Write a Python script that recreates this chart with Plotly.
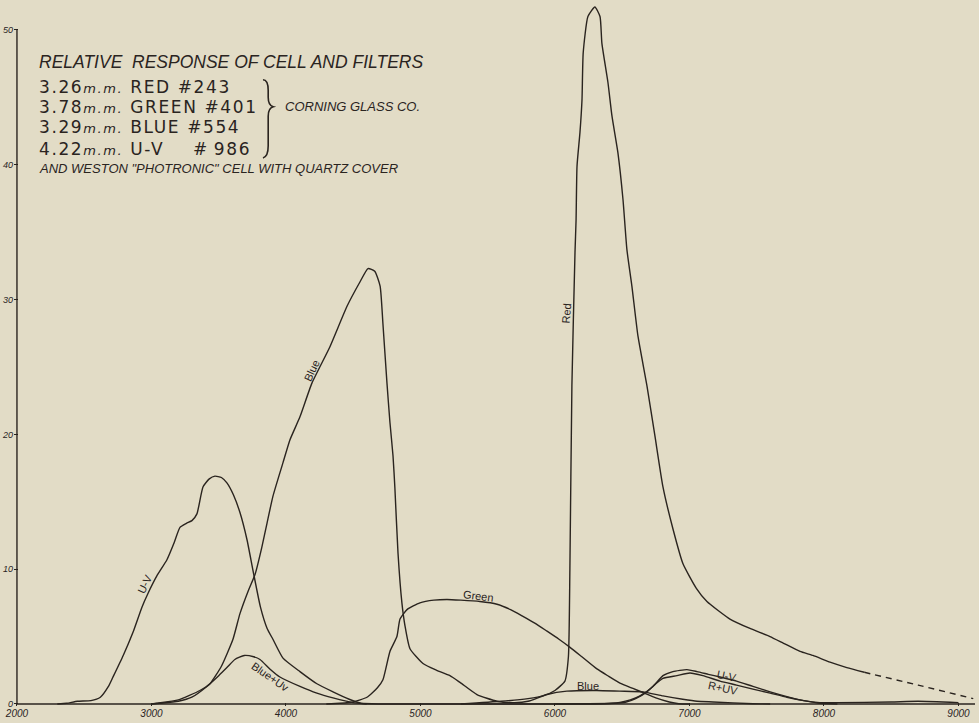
import plotly.graph_objects as go

# ---------------- data (wavelength in Angstrom, relative response) ----------------
uv_x = [2300, 2370, 2450, 2550, 2620, 2680, 2714, 2790, 2862, 2930, 2974, 3040, 3115, 3170, 3212,
        3260, 3301, 3338, 3383, 3430, 3472, 3520, 3561, 3610, 3658, 3710, 3755, 3810, 3860, 3903,
        3978, 4104, 4230, 4350, 4470, 4560, 4700, 5200, 5800, 6300, 6420, 6483, 6560, 6632, 6729,
        6803, 6877, 6981, 7056, 7140, 7227, 7350, 7472, 7600, 7725, 7850, 7970, 8100, 8500, 8700, 9000]
uv_y = [0.0, 0.05, 0.2, 0.25, 0.5, 1.3, 2.0, 3.6, 5.3, 7.2, 8.2, 9.5, 10.7, 12.0, 13.1,
        13.4, 13.6, 14.1, 16.1, 16.7, 16.9, 16.8, 16.4, 15.5, 14.2, 12.2, 9.9, 7.2, 5.6, 4.8,
        3.4, 2.4, 1.5, 0.9, 0.35, 0.05, 0.0, 0.0, 0.0, 0.0, 0.05, 0.12, 0.3, 0.6, 1.3,
        2.1, 2.4, 2.55, 2.4, 2.2, 2.0, 1.7, 1.3, 0.9, 0.55, 0.25, 0.1, 0.1, 0.15, 0.2, 0.1]

rptuv_x = [6000, 6450, 6530, 6600, 6684, 6750, 6803, 6907, 7004, 7100, 7227, 7350, 7472, 7600,
           7725, 7850, 7970, 8100]
rptuv_y = [0.0, 0.05, 0.15, 0.4, 0.9, 1.5, 1.9, 2.1, 2.3, 2.1, 1.7, 1.4, 1.1, 0.8,
           0.5, 0.25, 0.05, 0.0]

blueuv_x = [3000, 3063, 3200, 3300, 3412, 3500, 3561, 3620, 3690, 3760, 3807, 3880, 3955, 4104,
            4230, 4350, 4498, 4600]
blueuv_y = [0.0, 0.05, 0.2, 0.5, 1.3, 2.1, 2.7, 3.3, 3.6, 3.5, 3.3, 2.6, 2.0, 1.3,
            0.8, 0.45, 0.1, 0.0]

blue_x = [3000, 3040, 3200, 3360, 3435, 3520, 3606, 3658, 3720, 3770, 3820, 3859, 3903, 3978,
          4030, 4104, 4193, 4327, 4454, 4550, 4610, 4660, 4700, 4721, 4751, 4773, 4796, 4810,
          4833, 4862, 4885, 4922, 5019, 5120, 5219, 5294, 5420, 5569, 5700, 5800, 5941, 6089,
          6312, 6480, 6654, 6803, 6950, 7056, 7175, 7472, 7600]
blue_y = [0.0, 0.05, 0.3, 1.0, 1.5, 2.8, 4.8, 6.7, 8.4, 9.6, 11.6, 13.4, 15.4, 17.9,
          19.6, 21.3, 23.8, 26.5, 29.5, 31.3, 32.3, 32.1, 31.0, 28.2, 23.8, 20.9, 18.4, 16.0,
          11.2, 7.5, 5.8, 4.1, 3.0, 2.5, 2.1, 1.6, 0.7, 0.2, 0.1, 0.2, 0.7, 0.95,
          1.0, 0.95, 0.9, 0.6, 0.35, 0.2, 0.15, 0.02, 0.0]

green_x = [4300, 4401, 4500, 4602, 4680, 4721, 4773, 4825, 4848, 4900, 4996, 5100, 5197, 5300,
           5442, 5569, 5670, 5762, 5850, 5941, 6030, 6112, 6200, 6312, 6400, 6483, 6580, 6654,
           6750, 6850, 6920, 7000]
green_y = [0.0, 0.05, 0.15, 0.5, 1.2, 1.8, 3.9, 5.0, 6.3, 7.0, 7.5, 7.7, 7.75, 7.7,
           7.6, 7.4, 7.0, 6.5, 6.0, 5.4, 4.8, 4.2, 3.5, 2.6, 2.05, 1.55, 1.15, 0.85,
           0.45, 0.15, 0.02, 0.0]

red_x = [5300, 5600, 5800, 5911, 6000, 6074, 6100, 6111, 6126, 6149, 6157, 6164, 6186, 6201,
         6210, 6245, 6297, 6335, 6349, 6394, 6424, 6468, 6506, 6535, 6572, 6617, 6684, 6743,
         6803, 6877, 6952, 7050, 7130, 7301, 7450, 7599, 7700, 7822, 7918, 8045, 8170, 8300]
red_y = [0.0, 0.2, 0.4, 0.6, 1.0, 1.7, 3.5, 10.0, 23.6, 33.5, 35.9, 39.9, 42.4, 44.8,
         48.3, 51.0, 51.7, 51.0, 49.0, 46.1, 43.6, 40.9, 37.4, 33.7, 31.0, 27.3, 23.6, 19.9,
         16.1, 13.0, 10.4, 8.6, 7.6, 6.3, 5.6, 5.0, 4.5, 3.9, 3.6, 3.1, 2.7, 2.35]
red_ext_x = [8300, 8700, 9110]
red_ext_y = [2.35, 1.4, 0.4]

x_ticks = [2000, 3000, 4000, 5000, 6000, 7000, 8000, 9000]
y_ticks = [0, 10, 20, 30, 40, 50]

filter_lines = [
    ("3.26", "RED", "#243"),
    ("3.78", "GREEN", "#401"),
    ("3.29", "BLUE", "#554"),
    ("4.22", "U-V", "#\u2009986"),
]

# ---------------- styling ----------------
INK = "#2a241f"
BG = "#e2dcc6"
LW = 1.4
FONT = "Liberation Sans"
WIDE = "DejaVu Sans"

fig = go.Figure()


def add_line(x, y, dash="solid"):
    fig.add_trace(go.Scatter(x=x, y=y, mode="lines",
                             line=dict(color=INK, width=LW, shape="spline", smoothing=0.5, dash=dash),
                             hoverinfo="skip", showlegend=False))


add_line(uv_x, uv_y)
add_line(rptuv_x, rptuv_y)
add_line(blueuv_x, blueuv_y)
add_line(blue_x, blue_y)
add_line(green_x, green_y)
add_line(red_x, red_y)
add_line(red_ext_x, red_ext_y, dash="6px,5px")

# axis lines
fig.add_shape(type="line", x0=2000, x1=9123, y0=0, y1=0, line=dict(color=INK, width=1.6))
fig.add_shape(type="line", x0=2000, x1=2000, y0=0, y1=50, line=dict(color=INK, width=1.4))

# brace
fig.add_shape(type="path",
              path="M 3829,46.3 Q 3868,46.3 3868,45.5 L 3868,45.0 Q 3868,44.4 3905,44.3 "
                   "Q 3868,44.2 3868,43.6 L 3868,41.4 Q 3868,40.6 3829,40.5",
              line=dict(color=INK, width=1.6))

ann = []
# title block
ann.append(dict(x=2150, y=47.6, text="<i>RELATIVE  RESPONSE OF CELL AND FILTERS</i>",
                font=dict(family=FONT, size=17.5, color=INK), xanchor="left", yanchor="middle",
                showarrow=False))
ys = [45.8, 44.3, 42.8, 41.2]
LS = "letter-spacing:1.6px"
for (mm, col, num), yy in zip(filter_lines, ys):
    gap = "\u2003\u2002" if col == "U-V" else " "
    txt = (f"<span style='{LS}'>{mm}</span><i><span style='font-size:13px;{LS}'>m.m.</span></i>"
           f"<span style='{LS}'> {col}{gap}{num}</span>")
    ann.append(dict(x=2150, y=yy, text=txt, font=dict(family=WIDE, size=17, color=INK),
                    xanchor="left", yanchor="middle", showarrow=False))
ann.append(dict(x=3980, y=44.3, text="<i>CORNING GLASS CO.</i>",
                font=dict(family=FONT, size=13, color=INK), xanchor="left", yanchor="middle",
                showarrow=False))
ann.append(dict(x=2150, y=39.7, text="<i>AND WESTON \"PHOTRONIC\" CELL WITH QUARTZ COVER</i>",
                font=dict(family=FONT, size=13, color=INK), xanchor="left", yanchor="middle",
                showarrow=False))

# curve labels
labels = [
    ("U-V", 2950, 8.9, -65),
    ("Blue", 4190, 24.7, -65),
    ("Blue+Uv", 3885, 2.0, 35),
    ("Green", 5430, 8.0, 7),
    ("Red", 6085, 29.0, -85),
    ("Blue", 6245, 1.35, 0),
    ("U-V", 7280, 2.1, 12),
    ("R+UV", 7250, 1.2, 12),
]
for t, x, y, a in labels:
    ann.append(dict(x=x, y=y, text=t, textangle=a, showarrow=False,
                    font=dict(family=FONT, size=11, color=INK)))

fig.update_layout(
    width=979, height=723,
    margin=dict(l=14, r=4, t=0, b=17),
    paper_bgcolor=BG, plot_bgcolor=BG,
    annotations=ann,
    xaxis=dict(range=[1978, 9123], showgrid=False, zeroline=False, showline=False,
               automargin=False,
               tickvals=x_ticks, ticktext=[f"<i>{v}</i>" for v in x_ticks],
               ticks="inside", ticklen=3, tickcolor=INK,
               tickfont=dict(family=FONT, size=10, color=INK)),
    yaxis=dict(range=[-0.15, 52.22], showgrid=False, zeroline=False, showline=False,
               automargin=False,
               tickvals=y_ticks, ticktext=[f"<i>{v}</i>" for v in y_ticks],
               ticks="inside", ticklen=4, tickcolor=INK,
               tickfont=dict(family=FONT, size=9, color=INK)),
)

fig.write_html("out.html",
               config={"displayModeBar": False},
               post_script="document.body.style.margin='0';document.body.style.background='" + BG + "';")
